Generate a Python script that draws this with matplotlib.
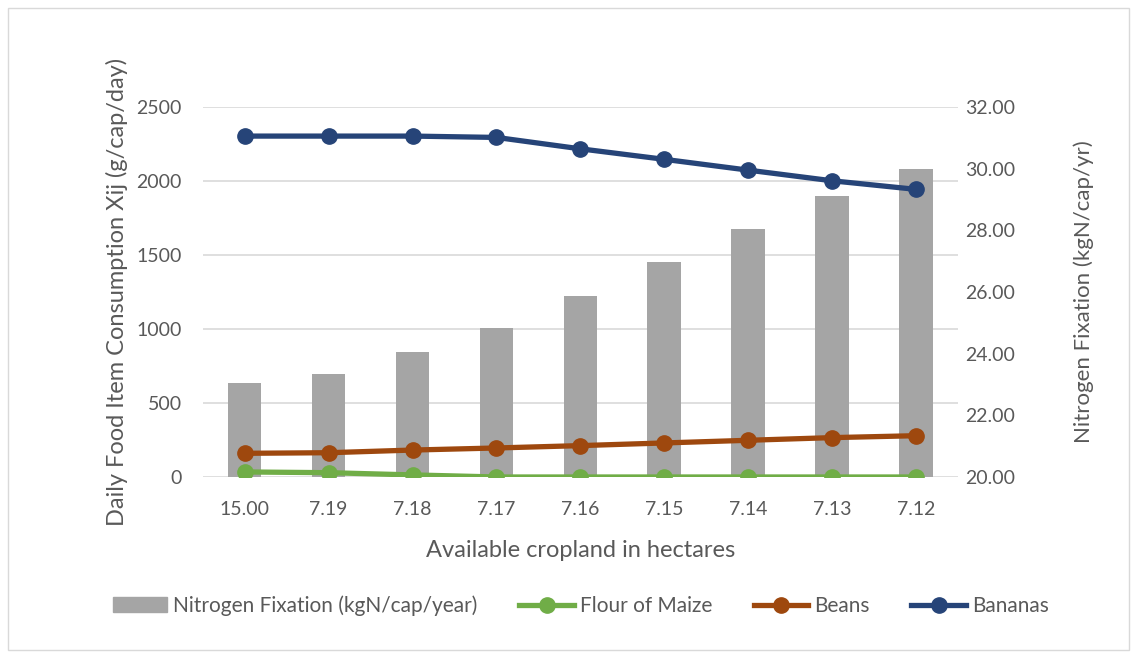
import matplotlib
matplotlib.use("Agg")
import matplotlib.pyplot as plt
from matplotlib.patches import Rectangle
from matplotlib.lines import Line2D

plt.rcParams["font.family"] = ["Lato", "DejaVu Sans"]

cropland = ["15.00", "7.19", "7.18", "7.17", "7.16", "7.15", "7.14", "7.13", "7.12"]
nitrogen = [23.05, 23.34, 24.05, 24.83, 25.87, 26.97, 28.04, 29.11, 29.99]
maize = [34, 29, 14, 0, 0, 0, 0, 0, 0]
beans = [160, 164, 182, 196, 212, 230, 248, 266, 279]
bananas = [2304, 2304, 2304, 2295, 2218, 2147, 2074, 2002, 1944]

TEXT = "#595959"
GRID = "#d9d9d9"

fig = plt.figure(figsize=(11.39, 6.57), dpi=100)
fig.patches.append(Rectangle((0.007, 0.011), 0.984, 0.977, transform=fig.transFigure,
                             fill=False, edgecolor=GRID, linewidth=1))
ax = fig.add_axes([0.178, 0.274, 0.663, 0.563])
ax2 = ax.twinx()

x = list(range(len(cropland)))
ax2.bar(x, nitrogen, width=0.4, color="#a5a5a5", zorder=1)
ax2.set_ylim(20, 32)
ax2.set_yticks([20, 22, 24, 26, 28, 30, 32])
ax2.set_yticklabels([f"{v:.2f}" for v in [20, 22, 24, 26, 28, 30, 32]])

ax.set_zorder(ax2.get_zorder() + 1)
ax.patch.set_visible(False)
for ys, col in [(maize, "#70ad47"), (beans, "#9e480e"), (bananas, "#264478")]:
    ax.plot(x, ys, color=col, linewidth=3.8, marker="o", markersize=11, zorder=3)
ax.set_ylim(0, 2500)
ax.set_yticks(range(0, 2501, 500))
ax.set_xlim(-0.5, len(cropland) - 0.5)
ax.set_xticks(x)
ax.set_xticklabels(cropland)

for a in (ax, ax2):
    for s in a.spines.values():
        s.set_visible(False)
    a.tick_params(length=0, labelsize=14, colors=TEXT)
ax.tick_params(axis="y", pad=15)
ax.tick_params(axis="x", pad=17)
ax2.tick_params(axis="y", pad=5)
for v in range(0, 2501, 500):
    ax2.axhline(20 + v / 2500 * 12, color=GRID, linewidth=1.2, zorder=0)

ax.set_xlabel("Available cropland in hectares", fontsize=17, color=TEXT, labelpad=16)
ax.set_ylabel("Daily Food Item Consumption Xij (g/cap/day)", fontsize=17, color=TEXT, labelpad=6)
ax2.set_ylabel("Nitrogen Fixation (kgN/cap/yr)", fontsize=16, color=TEXT, labelpad=42)

handles = [Rectangle((0, 0), 1, 1, color="#a5a5a5"),
           Line2D([], [], color="#70ad47", lw=3.8, marker="o", ms=11),
           Line2D([], [], color="#9e480e", lw=3.8, marker="o", ms=11),
           Line2D([], [], color="#264478", lw=3.8, marker="o", ms=11)]
labels = ["Nitrogen Fixation (kgN/cap/year)", "Flour of Maize", "Beans", "Bananas"]
leg = fig.legend(handles, labels, loc="center", bbox_to_anchor=(0.51, 0.078), ncol=4,
                 frameon=False, fontsize=15, handlelength=2.6, columnspacing=2.0,
                 handletextpad=0.3)
for t in leg.get_texts():
    t.set_color(TEXT)

fig.savefig("out.png", dpi=100)
